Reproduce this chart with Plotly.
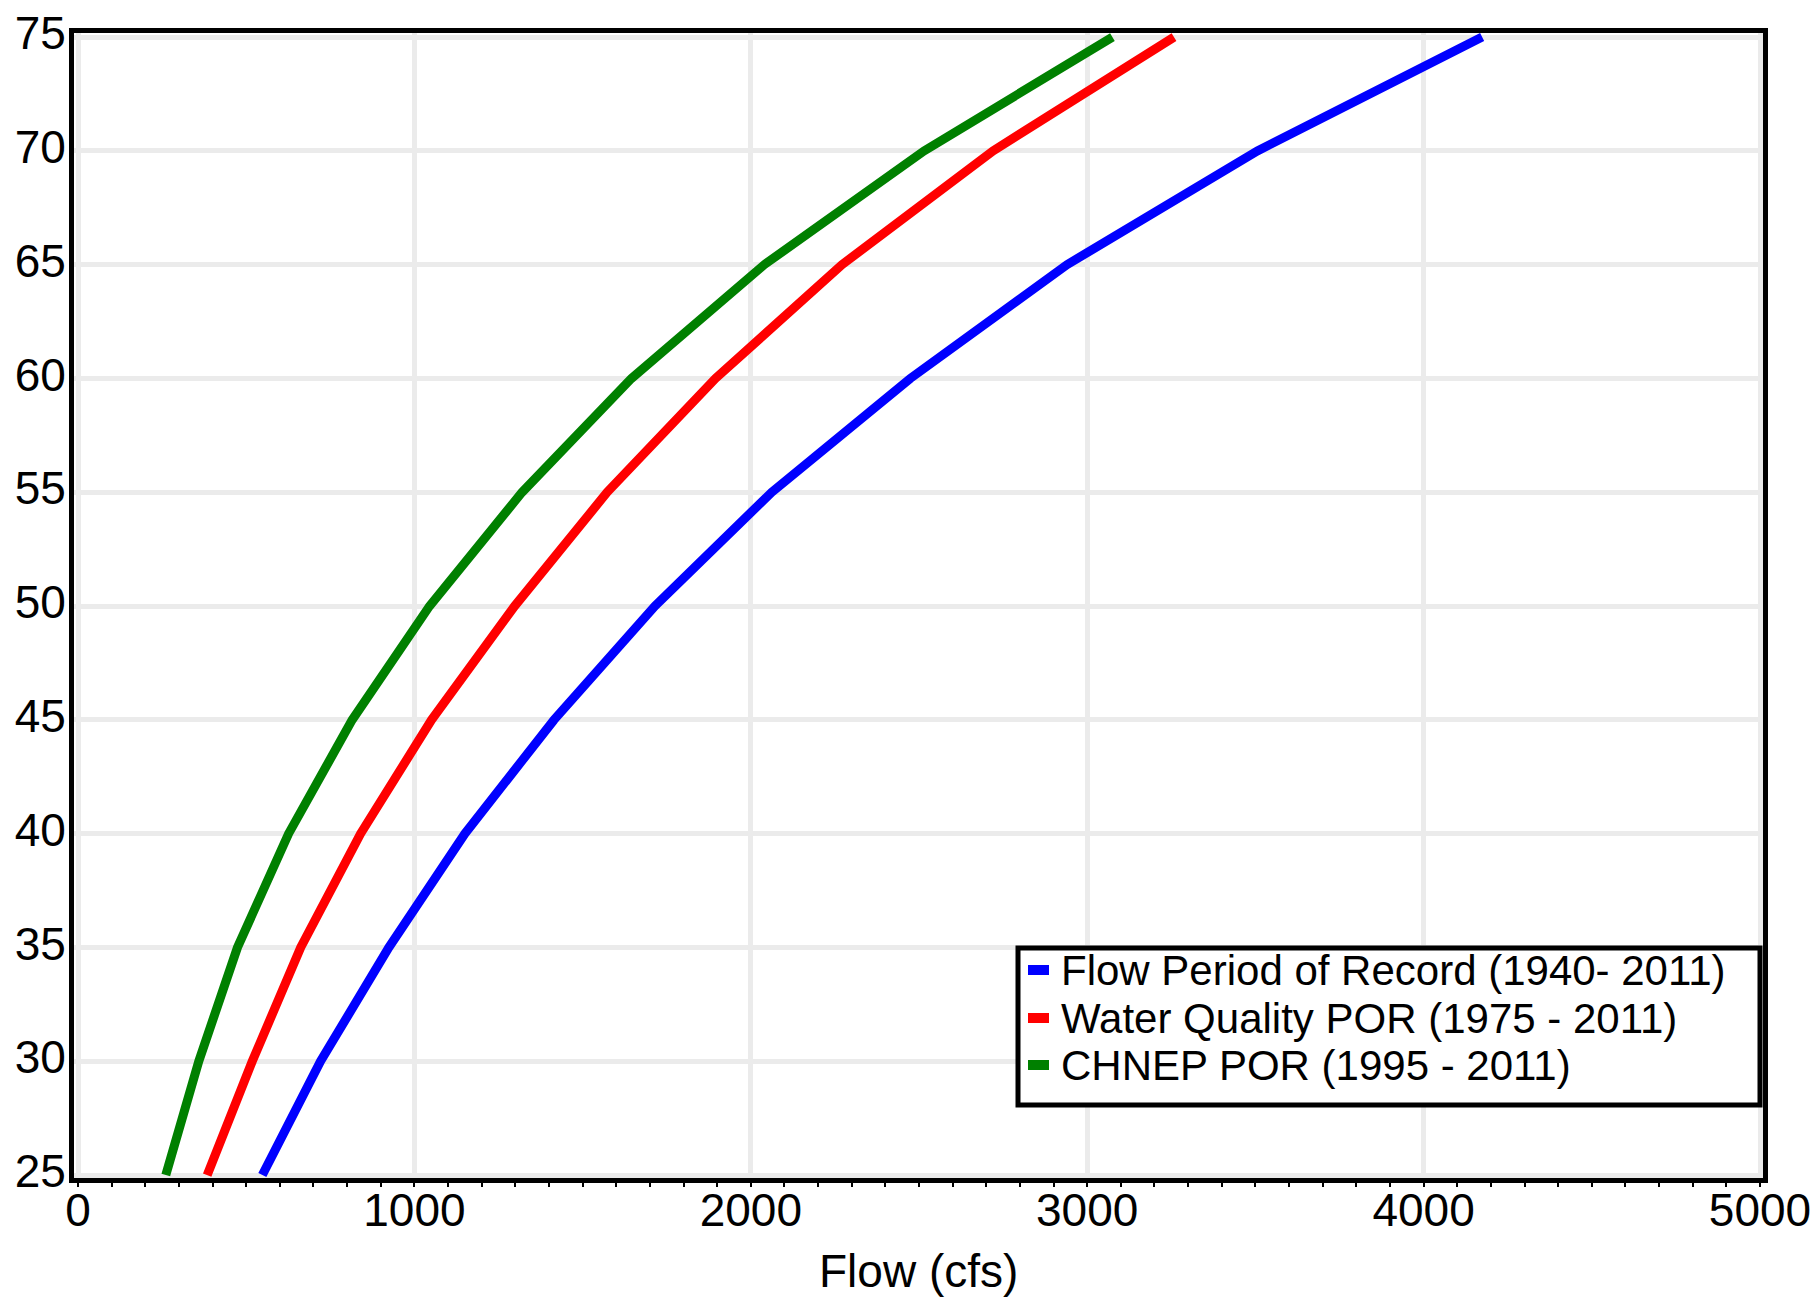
import plotly.graph_objects as go

# Percent values (y axis)
percent = [25, 30, 35, 40, 45, 50, 55, 60, 65, 70, 75]

# Flow (cfs) for each series
flow_por = [548, 721, 924, 1150, 1415, 1715, 2062, 2474, 2940, 3506, 4174]
wq_por = [384, 518, 662, 840, 1051, 1298, 1573, 1895, 2271, 2720, 3258]
chnep_por = [261, 359, 474, 626, 815, 1045, 1320, 1645, 2040, 2515, 3075]

series_names = [
    "Flow Period of Record (1940- 2011)",
    "Water Quality POR (1975 - 2011)",
    "CHNEP POR (1995 - 2011)",
]
series_values = [flow_por, wq_por, chnep_por]
series_colors = ["#0000ff", "#ff0000", "#008000"]

x_ticks = [0, 1000, 2000, 3000, 4000, 5000]
y_ticks = [25, 30, 35, 40, 45, 50, 55, 60, 65, 70, 75]
x_title = "Flow (cfs)"

FONT = "Liberation Sans, Arial, Helvetica, sans-serif"
W, H = 1804, 1291
PL, PR, PT, PB = 66, 1755, 25, 1170   # plot area edges in figure pixels
OFF = 8  # page body margin


def px_x(a):
    return (a - OFF - PL) / (PR - PL)


def px_y(a):
    return 1 - (a - OFF - PT) / (PB - PT)


fig = go.Figure()
for name, vals, col in zip(series_names, series_values, series_colors):
    fig.add_trace(go.Scatter(
        x=vals, y=percent, mode="lines", name=name, showlegend=False,
        line=dict(color=col, width=9),
    ))

# legend box
fig.add_shape(type="rect", xref="paper", yref="paper",
              x0=px_x(1018), x1=px_x(1760), y0=px_y(1105), y1=px_y(948),
              line=dict(color="black", width=5), fillcolor="white", layer="above")
rows = [970, 1018, 1065]
for name, col, ry in zip(series_names, series_colors, rows):
    fig.add_shape(type="line", xref="paper", yref="paper",
                  x0=px_x(1028), x1=px_x(1049), y0=px_y(ry), y1=px_y(ry),
                  line=dict(color=col, width=10), layer="above")
    fig.add_annotation(xref="paper", yref="paper", x=px_x(1060), y=px_y(ry),
                       xanchor="left", yanchor="middle", showarrow=False,
                       text=name, font=dict(family=FONT, size=42, color="black"),
                       borderpad=0)

# x-axis title (placed as annotation so it can sit near the bottom edge)
fig.add_annotation(xref="paper", yref="paper", x=0.5, y=px_y(1271),
                   xanchor="center", yanchor="middle", showarrow=False,
                   text=x_title, font=dict(family=FONT, size=46, color="black"),
                   borderpad=0)

grid = "#ebebeb"
fig.update_layout(
    width=W, height=H,
    margin=dict(l=PL, r=W - PR, t=PT, b=H - PB, pad=0),
    paper_bgcolor="white", plot_bgcolor="white",
    font=dict(family=FONT, size=46, color="black"),
    showlegend=False,
    xaxis=dict(
        range=[-11.9, 5008.9], tickvals=x_ticks, ticktext=[str(v) for v in x_ticks],
        showgrid=True, gridcolor=grid, gridwidth=5,
        zeroline=True, zerolinecolor=grid, zerolinewidth=5,
        showline=True, linecolor="black", linewidth=5, mirror=True,
        ticks="outside", ticklen=4, tickwidth=2, tickcolor="black",
        minor=dict(dtick=100, ticks="outside", ticklen=4, tickwidth=2,
                   tickcolor="black", showgrid=False),
        tickfont=dict(size=46),
        ticklabelstandoff=-16, ticklabeloverflow="allow",
        automargin=False,
    ),
    yaxis=dict(
        range=[24.87, 75.18], tickvals=y_ticks, ticktext=[str(v) for v in y_ticks],
        showgrid=True, gridcolor=grid, gridwidth=5,
        zeroline=False,
        showline=True, linecolor="black", linewidth=5, mirror=True,
        ticks="", tickfont=dict(size=46),
        ticklabelshift=-4, ticklabelstandoff=-6, ticklabeloverflow="allow",
        automargin=False,
    ),
)

fig.write_html("out.html")
